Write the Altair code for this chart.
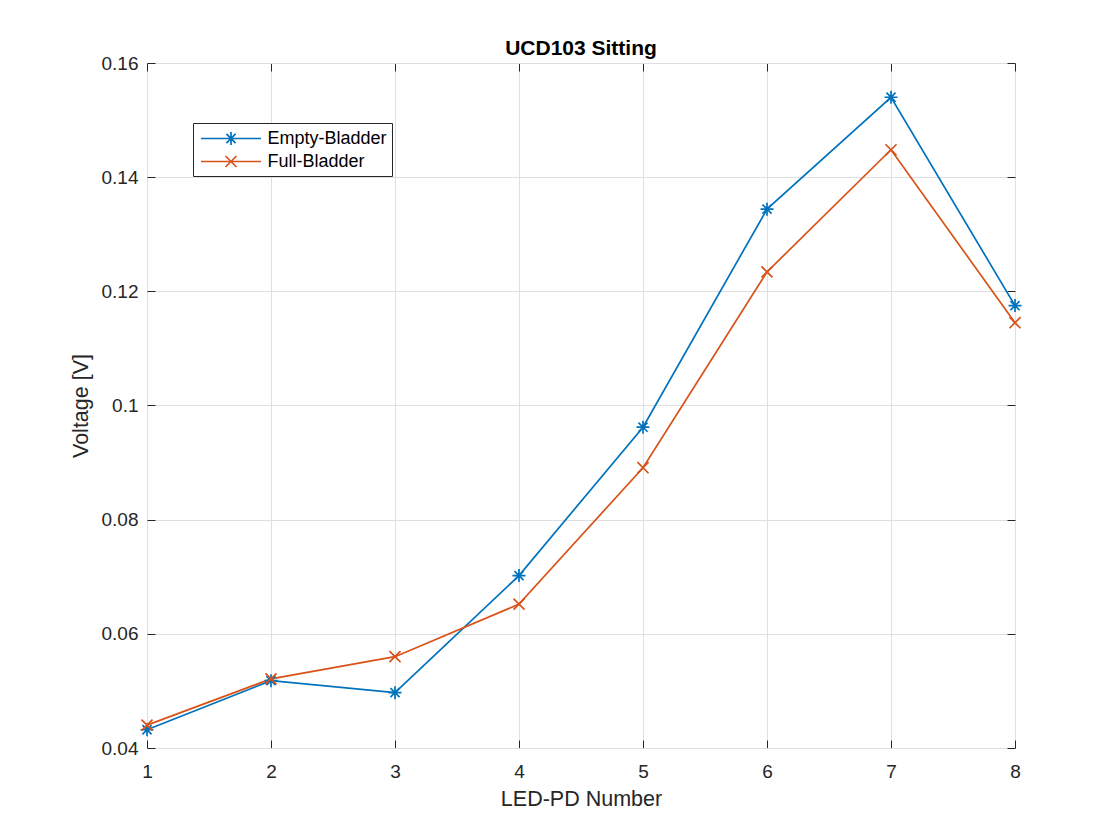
import altair as alt
import pandas as pd

# ---------------- data ----------------
led_numbers = [1, 2, 3, 4, 5, 6, 7, 8]
empty_bladder = [0.0432, 0.0518, 0.0497, 0.0702, 0.0962, 0.1344, 0.1540, 0.1175]
full_bladder = [0.0440, 0.0521, 0.0560, 0.0652, 0.0891, 0.1234, 0.1448, 0.1145]
series_names = ["Empty-Bladder", "Full-Bladder"]
series_colors = ["#0072BD", "#D95319"]
x_ticks = [1, 2, 3, 4, 5, 6, 7, 8]
y_ticks = [0.04, 0.06, 0.08, 0.10, 0.12, 0.14, 0.16]
title_text = "UCD103 Sitting"
x_title = "LED-PD Number"
y_title = "Voltage [V]"

rows = []
for name, vals in zip(series_names, [empty_bladder, full_bladder]):
    for n, v in zip(led_numbers, vals):
        rows.append({"led": n, "voltage": v, "series": name})
df = pd.DataFrame(rows)

# ---------------- styling ----------------
FONT = "Liberation Sans"
INK = "#262626"
GRID = "#dfdfdf"
LW = 1.7

# marker shapes (unit square paths)
AST = "M0,-1L0,1M-1,0L1,0M-0.7,-0.7L0.7,0.7M-0.7,0.7L0.7,-0.7"
XM = "M-0.85,-0.85L0.85,0.85M-0.85,0.85L0.85,-0.85"
# legend symbols: line segment with marker
LEG_AST = "M-3.16,0L3.16,0M0,-0.68L0,0.68M-0.48,-0.48L0.48,0.48M-0.48,0.48L0.48,-0.48"
LEG_X = "M-3.16,0L3.16,0M-0.58,-0.58L0.58,0.58M-0.58,0.58L0.58,-0.58"

xs = alt.Scale(domain=[1, 8], nice=False, zero=False)
ys = alt.Scale(domain=[0.04, 0.16], nice=False, zero=False)


def tick_axis(orient, values):
    # inward tick marks drawn as the first few pixels of a dashed grid line
    return alt.Axis(orient=orient, values=values, labels=False, title=None,
                    ticks=False, domain=False, grid=True, gridColor=INK,
                    gridWidth=1, gridDash=[8, 3000], gridOpacity=1,
                    minExtent=0, maxExtent=0)


x_label_axis = alt.Axis(orient="bottom", values=x_ticks, format="d", ticks=False,
                        domain=False, grid=True, gridColor=GRID, gridWidth=1,
                        labelFont=FONT, labelFontSize=19, labelColor=INK,
                        labelPadding=14, labelFlush=False, labelOverlap=False,
                        title=x_title, titleFont=FONT, titleFontSize=21.5,
                        titleFontWeight="normal", titleColor=INK,
                        titleBaseline="alphabetic", titleY=57)
y_label_axis = alt.Axis(orient="left", values=y_ticks, format=".2~f", ticks=False,
                        domain=False, grid=True, gridColor=GRID, gridWidth=1,
                        labelFont=FONT, labelFontSize=19, labelColor=INK,
                        labelPadding=9, labelFlush=False, labelOverlap=False,
                        title=y_title, titleFont=FONT, titleFontSize=21.5,
                        titleFontWeight="normal", titleColor=INK,
                        titleBaseline="alphabetic", titleX=-60)

color = alt.Color("series:N", scale=alt.Scale(domain=series_names, range=series_colors),
                  legend=None)

base = alt.Chart(df)

lines = base.mark_line(strokeWidth=LW).encode(
    x=alt.X("led:Q", scale=xs, axis=x_label_axis),
    y=alt.Y("voltage:Q", scale=ys, axis=y_label_axis),
    color=color,
)

points = base.mark_point(filled=False, opacity=1, size=169, strokeWidth=LW).encode(
    x=alt.X("led:Q", scale=xs, axis=tick_axis("bottom", x_ticks)),
    y=alt.Y("voltage:Q", scale=ys, axis=tick_axis("left", y_ticks)),
    color=color,
    shape=alt.Shape("series:N", scale=alt.Scale(domain=series_names, range=[AST, XM]),
                    legend=None),
)

legend = alt.Legend(orient="none", legendX=46, legendY=60, title=None,
                    labelFont=FONT, labelFontSize=18, labelColor="#000000",
                    symbolSize=361, symbolStrokeWidth=LW, symbolOffset=22.5,
                    labelOffset=26, padding=5, rowPadding=2,
                    strokeColor=INK, fillColor="white", cornerRadius=0,
                    labelLimit=400)

legend_layer = base.mark_point(filled=False, opacity=1, strokeWidth=LW).encode(
    x=alt.X("led:Q", scale=xs, axis=tick_axis("top", x_ticks)),
    y=alt.Y("voltage:Q", scale=ys, axis=tick_axis("right", y_ticks)),
    shape=alt.Shape("series:N",
                    scale=alt.Scale(domain=series_names, range=[LEG_AST, LEG_X]),
                    legend=legend),
    stroke=alt.Stroke("series:N",
                      scale=alt.Scale(domain=series_names, range=series_colors),
                      legend=legend),
).transform_filter("datum.led < 0")

chart = alt.layer(lines, points, legend_layer).resolve_scale(
    shape="independent", stroke="independent"
).resolve_axis(
    x="independent", y="independent"
).properties(
    width=868,
    height=685,
    padding={"left": 139, "top": 55, "right": 97, "bottom": 84},
    autosize=alt.AutoSizeParams(type="none"),
    title=alt.TitleParams(text=title_text, font=FONT, fontSize=21, fontWeight="bold",
                          color="#000000", anchor="middle", frame="group",
                          offset=7, baseline="alphabetic", dy=29),
).configure_view(
    stroke=INK, strokeWidth=1
).configure_legend(
    strokeWidth=1
)

chart.save("out.html", embed_options={"renderer": "svg", "actions": False})
